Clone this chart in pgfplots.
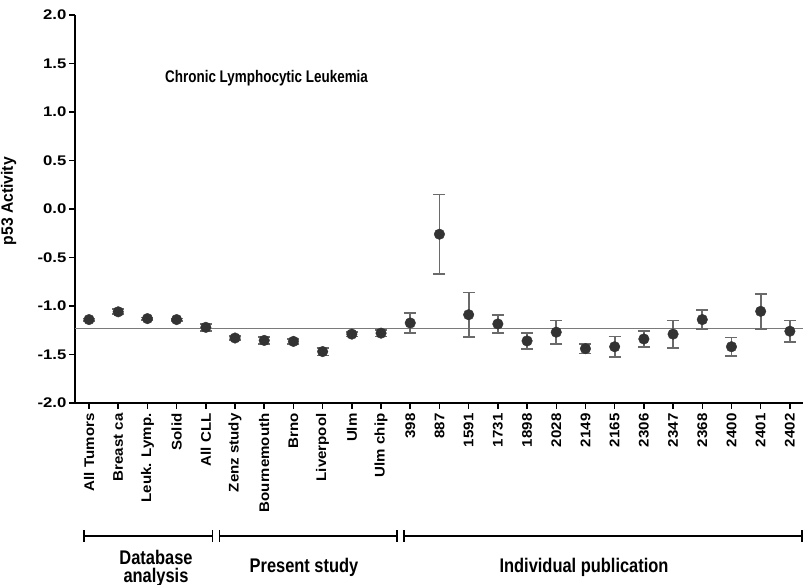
\documentclass[border=0pt]{standalone}
\usepackage{pgfplots}
\pgfplotsset{compat=1.18}
\usepackage{pgfplotstable}
\usepackage{fontspec}
\setmainfont{Liberation Sans}

\definecolor{markgray}{HTML}{333333}
\definecolor{bargray}{HTML}{6A6A6A}
\definecolor{refgray}{HTML}{7A7A7A}

% category index, mean p53 activity, error half-width
\pgfplotstableread{
x   y       e
0   -1.14   0.012
1   -1.06   0.025
2   -1.13   0.012
3   -1.14   0.012
4   -1.22   0.035
5   -1.33   0.018
6   -1.355  0.035
7   -1.365  0.025
8   -1.47   0.040
9   -1.29   0.025
10  -1.28   0.035
11  -1.175  0.100
12  -0.26   0.410
13  -1.09   0.230
14  -1.185  0.095
15  -1.36   0.080
16  -1.27   0.120
17  -1.44   0.050
18  -1.42   0.105
19  -1.34   0.080
20  -1.29   0.140
21  -1.14   0.100
22  -1.42   0.095
23  -1.055  0.180
24  -1.26   0.110
}\activity

\begin{document}
\begin{tikzpicture}[x=1bp,y=1bp]
\useasboundingbox (0,0) rectangle (803,585);
\begin{axis}[
  at={(75bp,182bp)}, anchor=south west,
  scale only axis, width=728bp, height=388bp,
  xmin=-0.48, xmax=24.45, ymin=-2, ymax=2,
  axis x line=bottom, axis y line=left,
  axis line style={line width=2pt, -},
  clip=false,
  xtick={0,...,24},
  xticklabels={All Tumors, Breast ca, {Leuk. Lymp.}, Solid, All CLL,
    Zenz study, Bournemouth, Brno, Liverpool, Ulm, Ulm chip,
    398, 887, 1591, 1731, 1898, 2028, 2149, 2165, 2306, 2347, 2368, 2400, 2401, 2402},
  xticklabel style={rotate=90, anchor=east, font=\fontsize{14}{16}\selectfont\bfseries, inner sep=4pt, xscale=1.08},
  ytick={-2,-1.5,-1,-0.5,0,0.5,1,1.5,2},
  yticklabels={-2.0,-1.5,-1.0,-0.5,0.0,0.5,1.0,1.5,2.0},
  yticklabel style={font=\fontsize{14}{16}\selectfont\bfseries, inner sep=2pt, xscale=1.2},
  tick align=outside, major tick length=6bp,
  tick style={line width=1.5pt, black},
  ylabel={p53 Activity},
  every axis y label/.style={at={(ticklabel cs:0.52)}, rotate=90, anchor=south, yshift=15bp,
    font=\fontsize{15}{17}\selectfont\bfseries, xscale=1.05, yscale=1.1},
]
\addplot[refgray, line width=1.2pt] coordinates {(-0.48,-1.23) (24.45,-1.23)};
\addplot[only marks, mark=*, mark size=5.3bp, mark options={fill=markgray, draw=markgray},
  error bars/.cd, y dir=both, y explicit,
  error bar style={bargray, line width=1.8pt},
  error mark options={rotate=90, mark size=6bp, bargray, line width=1.8pt}]
  table[x=x, y=y, y error=e] {\activity};
\node[font=\fontsize{13.5}{16}\selectfont\bfseries, yscale=1.25] at (axis cs:6.08,1.35) {Chronic Lymphocytic Leukemia};
\end{axis}

% group brackets under the categories
\begin{scope}[line width=2pt, black]
  \draw (84,49) -- (212.5,49);
  \draw (84,43) -- (84,55);
  \draw (212.5,43) -- (212.5,55);
  \draw (219.5,49) -- (397,49);
  \draw (219.5,43) -- (219.5,55);
  \draw (397,43) -- (397,55);
  \draw (403.5,49) -- (802,49);
  \draw (403.5,43) -- (403.5,55);
  \draw (802,43) -- (802,55);
\end{scope}
\begin{scope}[font=\fontsize{16.5}{19}\selectfont\bfseries]
  \node[yscale=1.2] at (156,28) {Database};
  \node[yscale=1.2] at (156,8) {analysis};
  \node[yscale=1.2] at (304,18) {Present study};
  \node[yscale=1.2] at (584,18) {Individual publication};
\end{scope}
\end{tikzpicture}
\end{document}
